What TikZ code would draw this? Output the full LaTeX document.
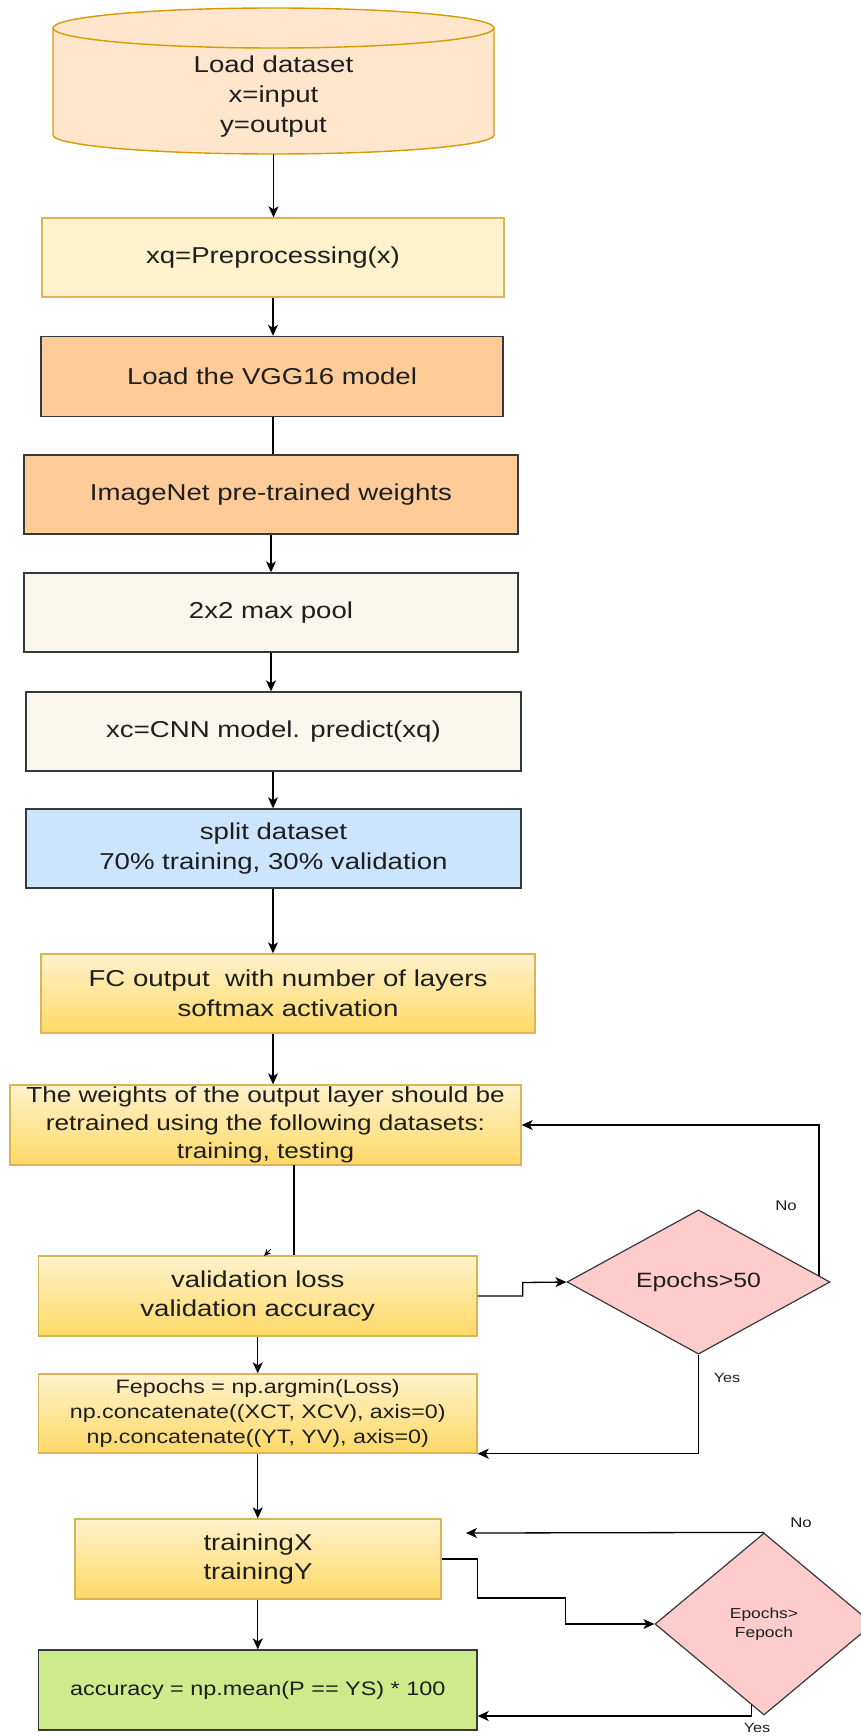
\documentclass[tikz,border=0pt]{standalone}
\usepackage{fontspec}
\setmainfont{Liberation Sans}[FakeStretch=1.2]
\usetikzlibrary{shapes.geometric,arrows.meta,calc}
\definecolor{cylF}{HTML}{FFE6CC}
\definecolor{cylD}{HTML}{D79B00}
\definecolor{yelF}{HTML}{FFF2CC}
\definecolor{yelD}{HTML}{D6B656}
\definecolor{yelG}{HTML}{FFD966}
\definecolor{orF}{HTML}{FFCC99}
\definecolor{darkD}{HTML}{36393D}
\definecolor{greyF}{HTML}{F9F7ED}
\definecolor{blueF}{HTML}{CCE5FF}
\definecolor{greenF}{HTML}{CDEB8B}
\definecolor{pinkF}{HTML}{FFCCCC}
\definecolor{txtC}{HTML}{1E1E1E}
\newcommand\fsz[2]{\fontsize{#1}{#2}\selectfont}
\begin{document}
\begin{tikzpicture}[x=1pt,y=-1pt,
  every node/.style={text=txtC},
  boxbase/.style={draw, line width=1.4pt, inner sep=0pt, align=center, font=\fsz{23}{29.5}},
  ybox/.style={boxbase, fill=yelF, draw=yelD},
  obox/.style={boxbase, fill=orF, draw=darkD},
  gbox/.style={boxbase, fill=greyF, draw=darkD},
  bbox/.style={boxbase, fill=blueF, draw=darkD},
  grbox/.style={boxbase, top color=yelF, bottom color=yelG, draw=yelD},
  accbox/.style={boxbase, fill=greenF, draw=darkD},
  dia/.style={diamond, draw=darkD, fill=pinkF, line width=1.2pt, inner sep=0pt, align=center},
  arr/.style={draw=black, line width=1.3pt, -{Stealth[length=11pt,width=10pt,inset=3pt]}},
  ln/.style={draw=black, line width=1.3pt},
  lbl/.style={inner sep=0pt, font=\fsz{14}{17}}
]
\fill[white] (0,0) rectangle (861,1736);
\useasboundingbox (0,0) rectangle (861,1736);

% cylinder
\node[inner sep=0pt, minimum width=441pt, minimum height=146pt] (ds) at (273.5,81) {};
\filldraw[fill=cylF, draw=cylD, line width=1.4pt]
  (53,28) -- (53,135) arc[start angle=180, end angle=360, x radius=220.5pt, y radius=19pt]
  -- (494,28) arc[start angle=0, end angle=180, x radius=220.5pt, y radius=20pt] -- cycle;
\draw[draw=cylD, line width=1.4pt] (53,28) arc[start angle=180, end angle=360, x radius=220.5pt, y radius=20pt];
\node[inner sep=0pt, align=center, font=\fsz{23}{30}] (dst) at (273.5,97) {Load dataset\\x=input\\y=output};

\node[ybox, minimum width=462pt, minimum height=79pt] (prep) at (273,257.5) {xq=Preprocessing(x)};
\node[obox, minimum width=462pt, minimum height=80pt] (vgg) at (272,376.5) {Load the VGG16 model};
\node[obox, minimum width=494pt, minimum height=79pt] (imnet) at (271,494.5) {ImageNet pre-trained weights};
\node[gbox, minimum width=494pt, minimum height=79pt] (pool) at (271,612.5) {2x2 max pool};
\node[gbox, minimum width=495pt, minimum height=79pt] (cnn) at (273.5,731.5) {xc=CNN model. predict(xq)};
\node[bbox, minimum width=495pt, minimum height=79pt] (split) at (273.5,848.5) {split dataset\\70\% training, 30\% validation};
\node[grbox, minimum width=494pt, minimum height=79pt] (fc) at (288,993.5) {FC output\ \ with number of layers\\softmax activation};
\node[grbox, minimum width=511pt, minimum height=80pt, font=\fsz{21.8}{28.3}] (w) at (265.5,1125) {The weights of the output layer should be\\retrained using the following datasets:\\training, testing};
\node[grbox, minimum width=438.5pt, minimum height=80pt] (val) at (257.75,1296) {validation loss\\validation accuracy};
\node[grbox, minimum width=438.5pt, minimum height=79pt, font=\fsz{19.4}{24.7}] (fep) at (257.75,1413.5) {Fepochs = np.argmin(Loss)\\np.concatenate((XCT, XCV), axis=0)\\np.concatenate((YT, YV), axis=0)};
\node[grbox, minimum width=366pt, minimum height=80pt] (trn) at (258,1559) {trainingX\\trainingY};
\node[accbox, minimum width=438.5pt, minimum height=80pt, font=\fsz{19.5}{24}] (acc) at (257.75,1690) {accuracy = np.mean(P == YS) * 100};

\node[dia, minimum width=263pt, minimum height=130pt, font=\fsz{20.7}{25}] (d50) at (698.5,1282) {Epochs>50};
\node[dia, minimum width=218pt, minimum height=182pt, font=\fsz{14.5}{19}] (dfe) at (764,1624) {Epochs>\\Fepoch};

% vertical flow
\draw[arr] (ds.south) -- (prep.north -| ds.south);
\draw[arr] (prep.south) -- (prep.south |- vgg.north);
\draw[ln] (vgg.south -| prep.south) -- (prep.south |- imnet.north);
\draw[arr] (imnet.south) -- (pool.north);
\draw[arr] (pool.south) -- (pool.south |- cnn.north);
\draw[arr] (cnn.south -| prep.south) -- (prep.south |- split.north);
\draw[arr] (split.south -| prep.south) -- (prep.south |- fc.north);
\draw[arr] (fc.south -| prep.south) -- (prep.south |- w.north);
\coordinate (wv) at (294,1165);
\draw[ln] (wv) -- (wv |- val.north);
\coordinate (stubA) at (271,1249);
\coordinate (stubB) at (264,1256);
\draw[-{Stealth[length=7pt,width=6pt]}, line width=0.9pt] (stubA) -- (stubB);
\draw[arr] (val.south) -- (fep.north);
\draw[arr] (fep.south) -- (trn.north -| fep.south);
\draw[arr] (trn.south -| fep.south) -- (acc.north);

% loop 1
\draw[arr] (val.east) -- ++(45,0) -- ++(0,-13.5) -- (d50.west);
\draw[arr] (d50.3) |- (w.east);
\node[lbl] (no1) at (786,1206) {No};
\draw[arr] (d50.south) |- (fep.south east);
\node[lbl, font=\fsz{13.5}{16}] (yes1) at (727,1378) {Yes};

% loop 2
\draw[arr] (trn.east) -- ++(36,0) -- ++(0,39) -- ++(88,0) |- (dfe.west);
\coordinate (noend) at (466,1533);
\draw[arr] (dfe.north) -- (noend);
\node[lbl] (no2) at (801,1523) {No};
\draw[arr] (dfe.261) |- ($(acc.east)+(0,26)$);
\node[lbl, font=\fsz{13.5}{16}] (yes2) at (757,1728) {Yes};
\end{tikzpicture}
\end{document}
